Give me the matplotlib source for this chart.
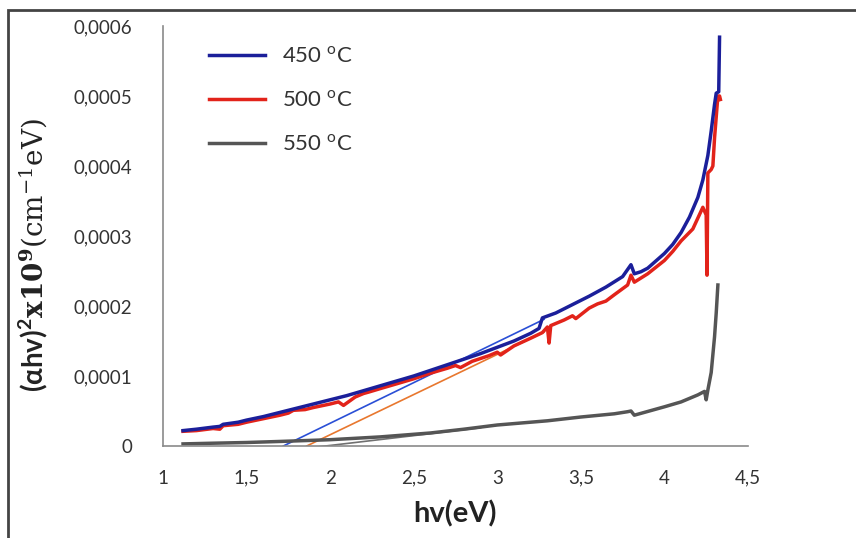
import numpy as np
import matplotlib.pyplot as plt
from matplotlib.patches import Rectangle

plt.rcParams['font.family'] = ['Lato', 'DejaVu Sans']
plt.rcParams['mathtext.fontset'] = 'custom'
plt.rcParams['mathtext.rm'] = 'DejaVu Serif'
plt.rcParams['mathtext.bf'] = 'DejaVu Serif:bold'

# photon energy (eV) and (alpha*hv)^2 values
x450 = [1.12, 1.2, 1.3, 1.34, 1.36, 1.45, 1.5, 1.6, 1.7, 1.8, 1.9, 2.0, 2.1, 2.2, 2.3,
        2.4, 2.5, 2.6, 2.7, 2.8, 2.9, 3.0, 3.1, 3.2, 3.25, 3.27, 3.35, 3.45, 3.55, 3.65,
        3.75, 3.8, 3.82, 3.86, 3.9, 4.0, 4.05, 4.1, 4.15, 4.2, 4.23, 4.26, 4.28, 4.3,
        4.31, 4.325, 4.33]
y450 = [0.22, 0.24, 0.27, 0.28, 0.31, 0.34, 0.37, 0.42, 0.48, 0.54, 0.60, 0.66, 0.72,
        0.79, 0.86, 0.93, 1.00, 1.08, 1.16, 1.24, 1.32, 1.41, 1.50, 1.61, 1.68, 1.83,
        1.90, 2.02, 2.14, 2.27, 2.42, 2.59, 2.46, 2.49, 2.54, 2.75, 2.88, 3.05, 3.27,
        3.55, 3.80, 4.15, 4.50, 4.88, 5.04, 5.06, 5.84]

x500 = [1.12, 1.2, 1.3, 1.34, 1.36, 1.45, 1.5, 1.6, 1.7, 1.75, 1.78, 1.85, 1.9, 2.0,
        2.05, 2.08, 2.15, 2.2, 2.23, 2.3, 2.4, 2.5, 2.6, 2.7, 2.75, 2.78, 2.85, 2.95,
        3.0, 3.02, 3.1, 3.2, 3.27, 3.3, 3.31, 3.32, 3.4, 3.45, 3.47, 3.55, 3.6, 3.65,
        3.7, 3.78, 3.8, 3.82, 3.9, 4.0, 4.05, 4.1, 4.17, 4.23, 4.25, 4.255, 4.26,
        4.28, 4.29, 4.3, 4.31, 4.32, 4.33, 4.335]
y500 = [0.21, 0.22, 0.25, 0.24, 0.29, 0.31, 0.34, 0.39, 0.44, 0.47, 0.51, 0.52, 0.55,
        0.60, 0.63, 0.58, 0.70, 0.75, 0.77, 0.82, 0.89, 0.96, 1.04, 1.11, 1.15, 1.12,
        1.21, 1.29, 1.34, 1.30, 1.43, 1.54, 1.62, 1.70, 1.47, 1.72, 1.80, 1.86, 1.82,
        1.97, 2.03, 2.07, 2.16, 2.30, 2.44, 2.34, 2.46, 2.65, 2.78, 2.93, 3.10, 3.41,
        3.30, 2.44, 3.90, 3.95, 4.00, 4.40, 4.70, 5.00, 5.00, 4.95]

x550 = [1.12, 1.3, 1.5, 1.7, 2.0, 2.3, 2.6, 2.8, 3.0, 3.3, 3.5, 3.7, 3.78, 3.8, 3.82,
        3.85, 4.0, 4.1, 4.2, 4.24, 4.25, 4.26, 4.28, 4.3, 4.31, 4.32]
y550 = [0.03, 0.04, 0.05, 0.065, 0.09, 0.13, 0.186, 0.24, 0.30, 0.36, 0.414, 0.46, 0.49,
        0.50, 0.44, 0.46, 0.56, 0.63, 0.73, 0.78, 0.66, 0.80, 1.05, 1.56, 1.90, 2.30]

# linear extrapolations to the energy axis
tan450_x = [1.72, 3.28]
tan450_y = [0.0, 1.81]
tan500_x = [1.86, 3.28]
tan500_y = [0.0, 1.63]
tan550_x = [1.9, 2.9]
tan550_y = [-0.02, 0.26]

labels = ['450 $^{\\mathregular{o}}$C', '500 $^{\\mathregular{o}}$C', '550 $^{\\mathregular{o}}$C']
xticks = [1, 1.5, 2, 2.5, 3, 3.5, 4, 4.5]
yticks = [0, 0.0001, 0.0002, 0.0003, 0.0004, 0.0005, 0.0006]

fig = plt.figure(figsize=(8.56, 5.38), dpi=100)
ax = fig.add_axes([0.1904, 0.171, 0.6834, 0.7807])

s = 1e-4
ax.plot(tan450_x, np.array(tan450_y) * s, color='#2a4fd6', lw=1.2)
ax.plot(tan500_x, np.array(tan500_y) * s, color='#e8772e', lw=1.2)
ax.plot(tan550_x, np.array(tan550_y) * s, color='#707070', lw=1.2)
ax.plot(x550, np.array(y550) * s, color='#555555', lw=2.5, label=labels[2])
ax.plot(x500, np.array(y500) * s, color='#e2231a', lw=2.5, label=labels[1])
ax.plot(x450, np.array(y450) * s, color='#1b1f9a', lw=2.5, label=labels[0])

ax.set_xlim(1, 4.5)
ax.set_ylim(0, 0.0006)
ax.set_xticks(xticks)
ax.set_yticks(yticks)
ax.set_xticklabels([('%g' % v).replace('.', ',') for v in xticks])
ax.set_yticklabels(['0' if v == 0 else ('%.4f' % v).replace('.', ',') for v in yticks])
ax.tick_params(length=0, labelsize=13.5, colors='#333333')
ax.tick_params(axis='x', pad=17)
ax.tick_params(axis='y', pad=22)

for sp in ['top', 'right']:
    ax.spines[sp].set_visible(False)
for sp in ['left', 'bottom']:
    ax.spines[sp].set_color('#8a8a8a')
    ax.spines[sp].set_linewidth(1.2)

ax.set_xlabel('hv(eV)', fontsize=21, fontweight='bold', labelpad=10, color='#222222')
fig.text(0.038, 0.525,
         '(αhv)$^{\\mathregular{2}}$$\\mathbf{x10^{9}}$$\\mathrm{(cm^{-1}eV)}$',
         rotation=90, fontsize=20, fontweight='bold', ha='center', va='center', color='#222222')

h, l = ax.get_legend_handles_labels()
leg = ax.legend(h[::-1], l[::-1], loc='upper left', bbox_to_anchor=(0.045, 1.0), frameon=False,
                fontsize=16, handlelength=2.5, labelspacing=1.05, handletextpad=0.75)
for t in leg.get_texts():
    t.set_color('#333333')

fig.patches.append(Rectangle((8 / 856, -0.02), 1.0, 1 - 10 / 538 + 0.02, transform=fig.transFigure,
                             fill=False, edgecolor='#444444', lw=2))

fig.savefig('out.png', dpi=100)
